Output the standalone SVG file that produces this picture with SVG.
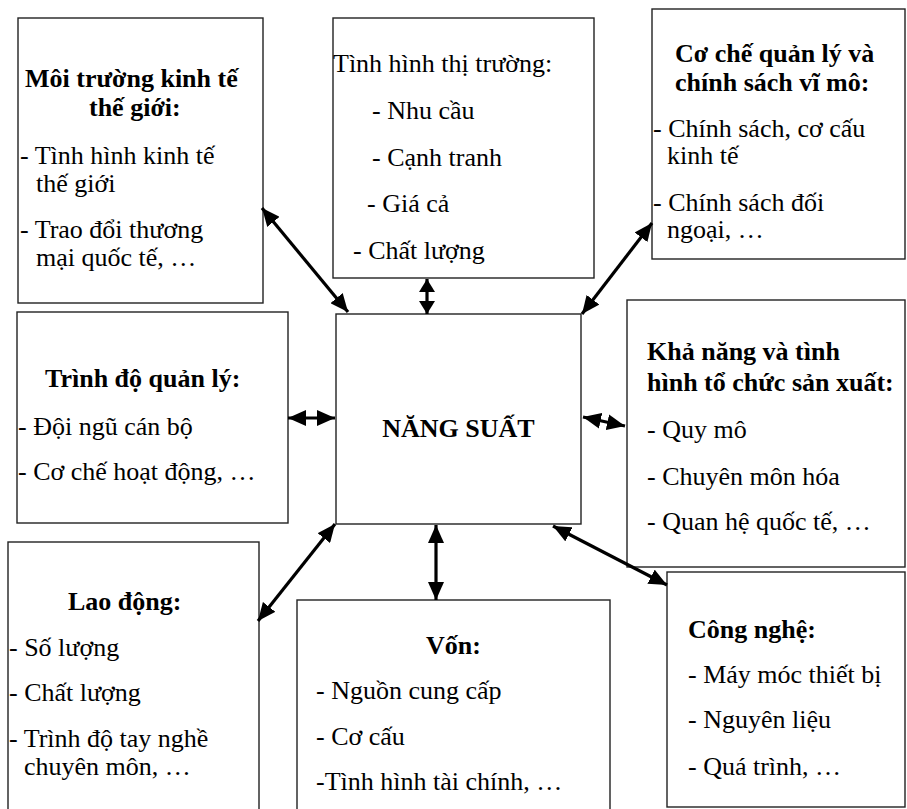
<svg xmlns="http://www.w3.org/2000/svg" width="907" height="809" viewBox="0 0 907 809">
  <defs>
    <marker id="head" viewBox="0 0 18 16" refX="18" refY="8" markerWidth="18" markerHeight="16" markerUnits="userSpaceOnUse" orient="auto-start-reverse">
      <path d="M0,0 L18,8 L0,16 z" fill="#000"/>
    </marker>
    <marker id="head-s" viewBox="0 0 13 16" refX="13" refY="8" markerWidth="13" markerHeight="16" markerUnits="userSpaceOnUse" orient="auto-start-reverse">
      <path d="M0,0 L13,8 L0,16 z" fill="#000"/>
    </marker>
    <style>
      .box { fill: #fff; stroke: #222; stroke-width: 1.4; }
      text { font-family: "Liberation Serif", "Times New Roman", serif; font-size: 26px; fill: #000; }
      .b { font-weight: bold; }
      .link { stroke: #000; stroke-width: 3.2; fill: none; marker-start: url(#head); marker-end: url(#head); }
      .link.short { marker-start: url(#head-s); marker-end: url(#head-s); }
    </style>
  </defs>
  <rect width="907" height="809" fill="#fff"/>

  <!-- factor boxes -->
  <g id="moi-truong">
    <rect class="box" x="18" y="18" width="245" height="285"/>
    <text class="b" x="25" y="87">Môi trường kinh tế</text>
    <text class="b" x="89" y="116">thế giới:</text>
    <text x="20" y="164">- Tình hình kinh tế</text>
    <text x="36" y="192">thế giới</text>
    <text x="20" y="238">- Trao đổi thương</text>
    <text x="36" y="266">mại quốc tế, …</text>
  </g>

  <g id="thi-truong">
    <rect class="box" x="333" y="18" width="261" height="260"/>
    <text x="333" y="72">Tình hình thị trường:</text>
    <text x="372" y="119">- Nhu cầu</text>
    <text x="372" y="166">- Cạnh tranh</text>
    <text x="367" y="212">- Giá cả</text>
    <text x="353" y="259">- Chất lượng</text>
  </g>

  <g id="co-che">
    <rect class="box" x="652" y="9" width="253" height="250"/>
    <text class="b" x="675" y="62">Cơ chế quản lý và</text>
    <text class="b" x="675" y="91">chính sách vĩ mô:</text>
    <text x="653" y="137">- Chính sách, cơ cấu</text>
    <text x="667" y="164">kinh tế</text>
    <text x="653" y="211">- Chính sách đối</text>
    <text x="667" y="238">ngoại, …</text>
  </g>

  <g id="trinh-do">
    <rect class="box" x="17" y="312" width="271" height="211"/>
    <text class="b" x="45" y="387">Trình độ quản lý:</text>
    <text x="18" y="435">- Đội ngũ cán bộ</text>
    <text x="18" y="480">- Cơ chế hoạt động, …</text>
  </g>

  <g id="nang-suat">
    <rect class="box" x="336" y="314" width="245" height="210"/>
    <text class="b" x="458.5" y="437" text-anchor="middle">NĂNG SUẤT</text>
  </g>

  <g id="kha-nang">
    <rect class="box" x="627" y="300" width="278" height="267"/>
    <text class="b" x="647" y="360">Khả năng và tình</text>
    <text class="b" x="647" y="391">hình tổ chức sản xuất:</text>
    <text x="647" y="438">- Quy mô</text>
    <text x="647" y="485">- Chuyên môn hóa</text>
    <text x="647" y="530">- Quan hệ quốc tế, …</text>
  </g>

  <g id="lao-dong">
    <rect class="box" x="8" y="542" width="251" height="280"/>
    <text class="b" x="68" y="610">Lao động:</text>
    <text x="9" y="656">- Số lượng</text>
    <text x="9" y="701">- Chất lượng</text>
    <text x="9" y="747">- Trình độ tay nghề</text>
    <text x="24" y="775">chuyên môn, …</text>
  </g>

  <g id="von">
    <rect class="box" x="297" y="600" width="313" height="220"/>
    <text class="b" x="426" y="654">Vốn:</text>
    <text x="316" y="699">- Nguồn cung cấp</text>
    <text x="316" y="745">- Cơ cấu</text>
    <text x="316" y="790">-Tình hình tài chính, …</text>
  </g>

  <g id="cong-nghe">
    <rect class="box" x="667" y="572" width="238" height="235"/>
    <text class="b" x="688" y="638">Công nghệ:</text>
    <text x="688" y="683">- Máy móc thiết bị</text>
    <text x="688" y="728">- Nguyên liệu</text>
    <text x="688" y="775">- Quá trình, …</text>
  </g>

  <!-- two-way links to the central box -->
  <g id="connectors">
    <line class="link" x1="262" y1="208" x2="348" y2="312"/>
    <line class="link short" x1="427" y1="279" x2="427" y2="314"/>
    <line class="link" x1="652" y1="223" x2="582" y2="314"/>
    <line class="link" x1="288" y1="418" x2="335" y2="418"/>
    <line class="link" x1="583" y1="417" x2="625" y2="426"/>
    <line class="link" x1="335" y1="524" x2="258" y2="621"/>
    <line class="link" x1="436" y1="525" x2="436" y2="600"/>
    <line class="link" x1="553" y1="526" x2="667" y2="585"/>
  </g>
</svg>
